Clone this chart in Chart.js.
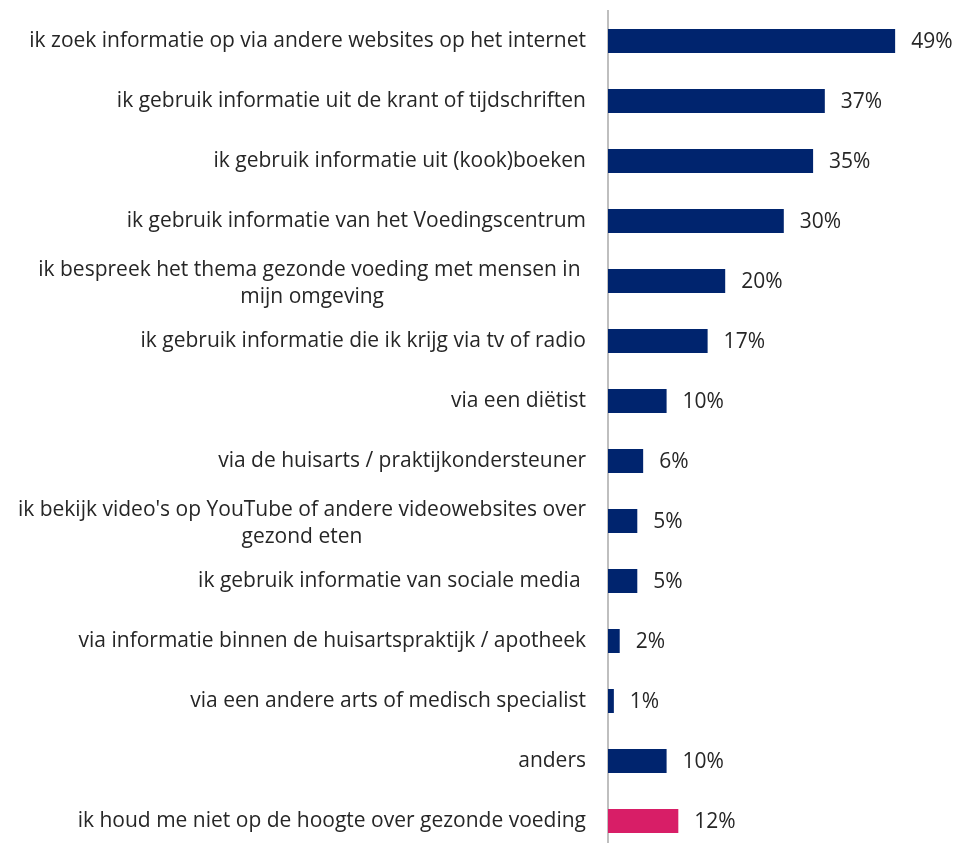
<!DOCTYPE html>
<html>
<head>
<meta charset="utf-8">
<script src="https://cdn.jsdelivr.net/npm/chart.js@4"></script>
<style>
  html, body { margin: 0; padding: 0; background: #ffffff; overflow: hidden; }
  #wrap { position: relative; width: 955px; height: 852px; }
</style>
</head>
<body>
<div id="wrap"><canvas id="chart"></canvas></div>
<script>
// Categories (multi-line entries are given as arrays of lines)
const categories = [
  'ik zoek informatie op via andere websites op het internet',
  'ik gebruik informatie uit de krant of tijdschriften',
  'ik gebruik informatie uit (kook)boeken',
  'ik gebruik informatie van het Voedingscentrum',
  ['ik bespreek het thema gezonde voeding met mensen in ', 'mijn omgeving'],
  'ik gebruik informatie die ik krijg via tv of radio',
  'via een diëtist',
  'via de huisarts / praktijkondersteuner',
  ["ik bekijk video's op YouTube of andere videowebsites over", 'gezond eten'],
  'ik gebruik informatie van sociale media ',
  'via informatie binnen de huisartspraktijk / apotheek',
  'via een andere arts of medisch specialist',
  'anders',
  'ik houd me niet op de hoogte over gezonde voeding'
];

// Share of respondents (%)
const percentages = [49, 37, 35, 30, 20, 17, 10, 6, 5, 5, 2, 1, 10, 12];

// Last category is highlighted
const barColors = ['#00246E', '#00246E', '#00246E', '#00246E', '#00246E', '#00246E', '#00246E',
                   '#00246E', '#00246E', '#00246E', '#00246E', '#00246E', '#00246E', '#D81E67'];

const FONT = '21px "Open Sans"';
const TEXT_COLOR = '#262626';

// Draws right-aligned category labels (wrapped lines centred on each other)
// and the percentage labels after each bar.
const labelPlugin = {
  id: 'labelPlugin',
  afterDatasetsDraw(chart) {
    const ctx = chart.ctx;
    const yScale = chart.scales.y;
    const meta = chart.getDatasetMeta(0);
    const rightEdge = chart.chartArea.left - 22;
    ctx.save();
    ctx.font = FONT;
    ctx.fillStyle = TEXT_COLOR;
    ctx.textBaseline = 'middle';
    categories.forEach((cat, i) => {
      const lines = Array.isArray(cat) ? cat : [cat];
      const yc = yScale.getPixelForValue(i);
      const lh = 27;
      if (lines.length === 1) {
        ctx.textAlign = 'right';
        ctx.fillText(lines[0], rightEdge, yc);
      } else {
        const maxW = Math.max(...lines.map(l => ctx.measureText(l).width));
        const cx = rightEdge - maxW / 2;
        ctx.textAlign = 'center';
        lines.forEach((l, k) => {
          ctx.fillText(l, cx, yc + 3 + (k - (lines.length - 1) / 2) * lh);
        });
      }
    });
    ctx.textAlign = 'left';
    meta.data.forEach((bar, i) => {
      ctx.fillText(percentages[i] + '%', bar.x + 16, bar.y + 1);
    });
    ctx.restore();
  }
};

new Chart(document.getElementById('chart'), {
  type: 'bar',
  data: {
    labels: categories,
    datasets: [{
      data: percentages,
      backgroundColor: barColors,
      barPercentage: 0.8,
      categoryPercentage: 0.5
    }]
  },
  options: {
    indexAxis: 'y',
    responsive: true,
    maintainAspectRatio: false,
    animation: false,
    layout: { padding: { top: 11, right: 54, bottom: 1, left: 0 } },
    plugins: { legend: { display: false }, tooltip: { enabled: false } },
    scales: {
      x: { display: false, min: 0, max: 50 },
      y: {
        ticks: { display: false },
        grid: { display: false, drawTicks: false },
        border: { display: true, color: '#BFBFBF', width: 2 },
        afterFit(scale) { scale.width = 608; }
      }
    }
  },
  plugins: [labelPlugin]
});
</script>
</body>
</html>
